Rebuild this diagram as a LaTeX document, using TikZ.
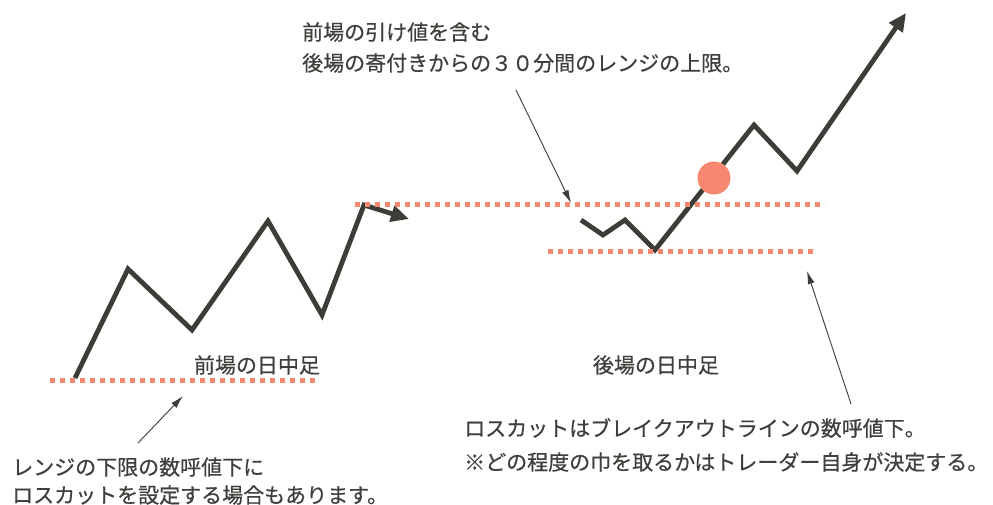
\documentclass[tikz,border=0pt]{standalone}
\usepackage{fontspec}
\setmainfont{Noto Sans CJK JP}[FakeBold=0.5]
\usetikzlibrary{arrows.meta}
\definecolor{ink}{HTML}{3B3E37}
\definecolor{txt}{HTML}{3F403C}
\definecolor{salmon}{HTML}{F7876F}
\tikzset{
  chart/.style={draw=ink, line width=4.8pt, line join=miter, line cap=butt},
  chartarrow/.style={chart, -{Triangle[length=18pt,width=16pt]}},
  level/.style={draw=salmon, line width=5pt, dash pattern=on 5pt off 5pt},
  pointer/.style={draw=ink, line width=0.9pt, -{Latex[length=13pt,width=7pt]}},
  lbl/.style={text=txt, font=\fontsize{21}{24}\selectfont, inner sep=0pt, anchor=west},
}
\begin{document}
\begin{tikzpicture}[x=1pt,y=-1pt]
\useasboundingbox (0,0) rectangle (993,504);
\fill[white] (0,0) rectangle (993,504);
% texts
\node[lbl] (t1) at (302,32) {前場の引け値を含む};
\node[lbl] (t2) at (302,63) {後場の寄付きからの３０分間のレンジの上限。};
\node[lbl,anchor=center] (am) at (257,365) {前場の日中足};
\node[lbl,anchor=center] (pm) at (656,365) {後場の日中足};
\node[lbl] (b1) at (12,467) {レンジの下限の数呼値下に};
\node[lbl] (b2) at (12,495) {ロスカットを設定する場合もあります。};
\node[lbl] (r1) at (464,428) {ロスカットはブレイクアウトラインの数呼値下。};
\node[lbl] (r2) at (464,462) {※どの程度の巾を取るかはトレーダー自身が決定する。};
% morning chart
\coordinate (a0) at (75,378);
\coordinate (a1) at (128,269);
\coordinate (a2) at (192,330);
\coordinate (a3) at (268,221);
\coordinate (a4) at (322,315);
\coordinate (a5) at (364,205);
\coordinate (a6) at (409,219);
\draw[chartarrow] (a0) -- (a1) -- (a2) -- (a3) -- (a4) -- (a5) -- (a6);
% afternoon chart
\coordinate (p0) at (581,220);
\coordinate (p1) at (603,235);
\coordinate (p2) at (625,220);
\coordinate (p3) at (655,250);
\coordinate (p4) at (754,125);
\coordinate (p5) at (797,171);
\coordinate (p6) at (906,13);
\draw[chartarrow] (p0) -- (p1) -- (p2) -- (p3) -- (p4) -- (p5) -- (p6);
% levels
\coordinate (l1a) at (50,380);
\coordinate (l1b) at (318,380);
\coordinate (l2a) at (355,204);
\coordinate (l2b) at (825,204);
\coordinate (l3a) at (548,251);
\coordinate (l3b) at (815,251);
\draw[level] (l1a) -- (l1b);
\draw[level] (l2a) -- (l2b);
\draw[level] (l3a) -- (l3b);
% breakout point
\fill[salmon] (714,178) circle (16.5);
% pointers
\coordinate (q1s) at (516,90);
\coordinate (q1e) at (571,203);
\coordinate (q2s) at (851,404);
\coordinate (q2e) at (807,271);
\coordinate (q3s) at (138,443);
\coordinate (q3e) at (183,396);
\draw[pointer] (q1s) -- (q1e);
\draw[pointer] (q2s) -- (q2e);
\draw[pointer] (q3s) -- (q3e);
\end{tikzpicture}
\end{document}
